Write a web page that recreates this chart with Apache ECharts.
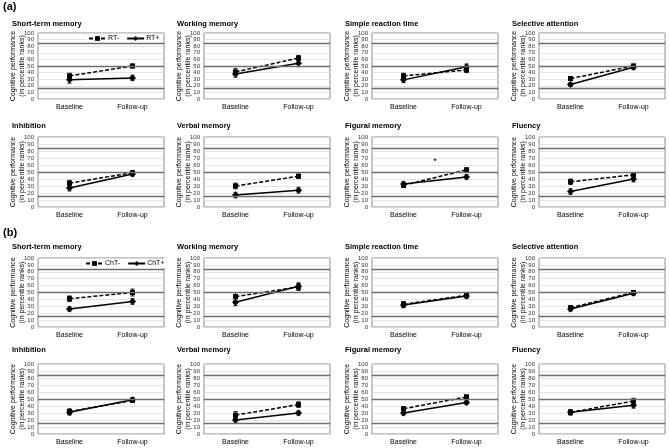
<!DOCTYPE html>
<html>
<head>
<meta charset="utf-8">
<script src="https://cdn.jsdelivr.net/npm/echarts@6/dist/echarts.min.js"></script>
<style>
  html, body { margin: 0; padding: 0; background: #fff; }
  #chart { width: 669px; height: 448px; }
</style>
</head>
<body>
<div id="chart"></div>
<script>
// data (percentile ranks), [baseline, follow-up]
var categories = ['Baseline', 'Follow-up'];
var panelTitles = ['Short-term memory', 'Working memory', 'Simple reaction time', 'Selective attention',
                   'Inhibition', 'Verbal memory', 'Figural memory', 'Fluency'];
var refLines = [16, 50, 84];

var rtNegMean = [[35, 50], [41, 62], [35, 44], [31, 50], [34, 49], [30, 44], [31, 53], [36, 46]];
var rtNegErr  = [[4, 3], [5, 4], [4, 4], [3, 3], [4, 3], [4, 3], [3, 3], [4, 3]];
var rtPosMean = [[29, 32], [38, 54], [29, 49], [22, 48], [27, 47], [17, 24], [33, 43], [22, 40]];
var rtPosErr  = [[5, 4], [5, 5], [4, 4], [3, 3], [4, 3], [4, 4], [3, 3], [4, 4]];

var chtNegMean = [[41, 50], [44, 58], [33, 46], [28, 50], [32, 48], [27, 42], [36, 53], [31, 47]];
var chtNegErr  = [[4, 5], [6, 5], [4, 4], [3, 3], [4, 3], [5, 4], [3, 3], [4, 4]];
var chtPosMean = [[26, 37], [36, 59], [32, 45], [26, 49], [31, 49], [20, 30], [30, 45], [31, 41]];
var chtPosErr  = [[3, 4], [5, 5], [4, 3], [3, 3], [4, 3], [3, 3], [3, 3], [3, 4]];

// significance star (section a, figural memory)
var starPanel = 6;
var starValue = [65];

var sections = [
  { label: '(a)', neg: 'RT-', pos: 'RT+', negMean: rtNegMean, negErr: rtNegErr, posMean: rtPosMean, posErr: rtPosErr },
  { label: '(b)', neg: 'ChT-', pos: 'ChT+', negMean: chtNegMean, negErr: chtNegErr, posMean: chtPosMean, posErr: chtPosErr }
];

var FONT = "'Liberation Sans', Arial, sans-serif";
var colLefts = [38, 204, 372, 539];
var colTitleX = [12, 177, 345, 512];
var rowTops = [33, 137, 258, 364];
var rowHeights = [66, 70, 69, 70];
var titleTops = [20, 122, 243, 346];
var plotW = 126;

var myChart = echarts.init(document.getElementById('chart'));

var grids = [], xAxes = [], yAxes = [], series = [];
var titles = [
  { text: '(a)', left: 3, top: 1, padding: 0, textStyle: { fontFamily: FONT, fontSize: 11, fontWeight: 'bold', color: '#000' } },
  { text: '(b)', left: 3, top: 227, padding: 0, textStyle: { fontFamily: FONT, fontSize: 11, fontWeight: 'bold', color: '#000' } }
];

function errRender(params, api) {
  var x = api.value(0);
  var lo = api.coord([x, api.value(1)]);
  var hi = api.coord([x, api.value(2)]);
  var cap = 2;
  var st = { stroke: '#000', lineWidth: 0.9 };
  return {
    type: 'group',
    children: [
      { type: 'line', shape: { x1: lo[0], y1: lo[1], x2: hi[0], y2: hi[1] }, style: st },
      { type: 'line', shape: { x1: lo[0] - cap, y1: lo[1], x2: lo[0] + cap, y2: lo[1] }, style: st },
      { type: 'line', shape: { x1: hi[0] - cap, y1: hi[1], x2: hi[0] + cap, y2: hi[1] }, style: st }
    ]
  };
}

sections.forEach(function (sec, s) {
  for (var p = 0; p < 8; p++) {
    var r = Math.floor(p / 4), c = p % 4;
    var row = s * 2 + r;
    var idx = s * 8 + p;

    titles.push({
      text: panelTitles[p], left: colTitleX[c], top: titleTops[row], padding: 0,
      textStyle: { fontFamily: FONT, fontSize: 7.5, fontWeight: 'bold', color: '#000' }
    });

    grids.push({
      left: colLefts[c], top: rowTops[row], width: plotW, height: rowHeights[row],
      show: true, borderColor: '#8c8c8c', borderWidth: 1, backgroundColor: 'transparent'
    });

    xAxes.push({
      type: 'category', gridIndex: idx, data: categories, boundaryGap: true,
      axisLine: { show: false }, axisTick: { show: false },
      axisLabel: { fontFamily: FONT, fontSize: 7, color: '#000', margin: 5 }
    });

    yAxes.push({
      type: 'value', gridIndex: idx, min: 0, max: 100, interval: 10,
      name: 'Cognitive performance\n(in percentile ranks)',
      nameLocation: 'middle', nameRotate: 90, nameGap: 11.5, nameMoveOverlap: false,
      nameTextStyle: { fontFamily: FONT, fontSize: 7, color: '#000', lineHeight: 9 },
      axisLine: { show: false }, axisTick: { show: false },
      axisLabel: { fontFamily: FONT, fontSize: 6, color: '#333', margin: 4 },
      splitLine: { lineStyle: { color: '#dcdcdc', width: 0.8 } }
    });

    // reference lines (16th, 50th, 84th percentile)
    series.push({
      type: 'line', xAxisIndex: idx, yAxisIndex: idx, data: [null, null], z: 1,
      silent: true, symbol: 'none',
      markLine: {
        silent: true, symbol: 'none', label: { show: false },
        lineStyle: { color: '#6e6e6e', width: 1.4, type: 'solid' },
        data: refLines.map(function (v) { return { yAxis: v }; })
      }
    });

    var errData = [];
    [[sec.negMean, sec.negErr], [sec.posMean, sec.posErr]].forEach(function (pair) {
      for (var k = 0; k < 2; k++) {
        var m = pair[0][p][k], e = pair[1][p][k];
        errData.push([k, m - e, m + e]);
      }
    });
    series.push({
      type: 'custom', xAxisIndex: idx, yAxisIndex: idx, z: 3, silent: true,
      renderItem: errRender, encode: { x: 0, y: [1, 2] }, data: errData
    });

    series.push({
      name: sec.neg, type: 'line', xAxisIndex: idx, yAxisIndex: idx, z: 4,
      data: sec.negMean[p], symbol: 'rect', symbolSize: 5,
      lineStyle: { color: '#000', width: 1.5, type: [4, 2] },
      itemStyle: { color: '#000' }
    });
    series.push({
      name: sec.pos, type: 'line', xAxisIndex: idx, yAxisIndex: idx, z: 4,
      data: sec.posMean[p], symbol: 'diamond', symbolSize: 7,
      lineStyle: { color: '#000', width: 1.5, type: 'solid' },
      itemStyle: { color: '#000' }
    });

    if (s === 0 && p === starPanel) {
      series.push({
        type: 'custom', xAxisIndex: idx, yAxisIndex: idx, z: 5, silent: true,
        data: starValue.map(function (v) { return [0, v]; }),
        renderItem: function (params, api) {
          var a = api.coord([0, api.value(1)]);
          var b = api.coord([1, api.value(1)]);
          return {
            type: 'text',
            style: { text: '*', x: (a[0] + b[0]) / 2, y: a[1], align: 'center', verticalAlign: 'middle',
                     fontSize: 9, fontFamily: FONT, fill: '#000' }
          };
        }
      });
    }
  }
});

var legendBase = {
  itemWidth: 17, itemHeight: 6, itemGap: 7, backgroundColor: '#fff', padding: [1, 2],
  textStyle: { fontFamily: FONT, fontSize: 7, color: '#000', padding: [0, 0, 0, -3] }, selectedMode: false
};
var option = {
  animation: false,
  backgroundColor: '#fff',
  title: titles,
  legend: [
    Object.assign({}, legendBase, { data: ['RT-', 'RT+'], left: 86, top: 34 }),
    Object.assign({}, legendBase, { data: ['ChT-', 'ChT+'], left: 83, top: 259 })
  ],
  grid: grids,
  xAxis: xAxes,
  yAxis: yAxes,
  series: series
};

myChart.setOption(option);
</script>
</body>
</html>
